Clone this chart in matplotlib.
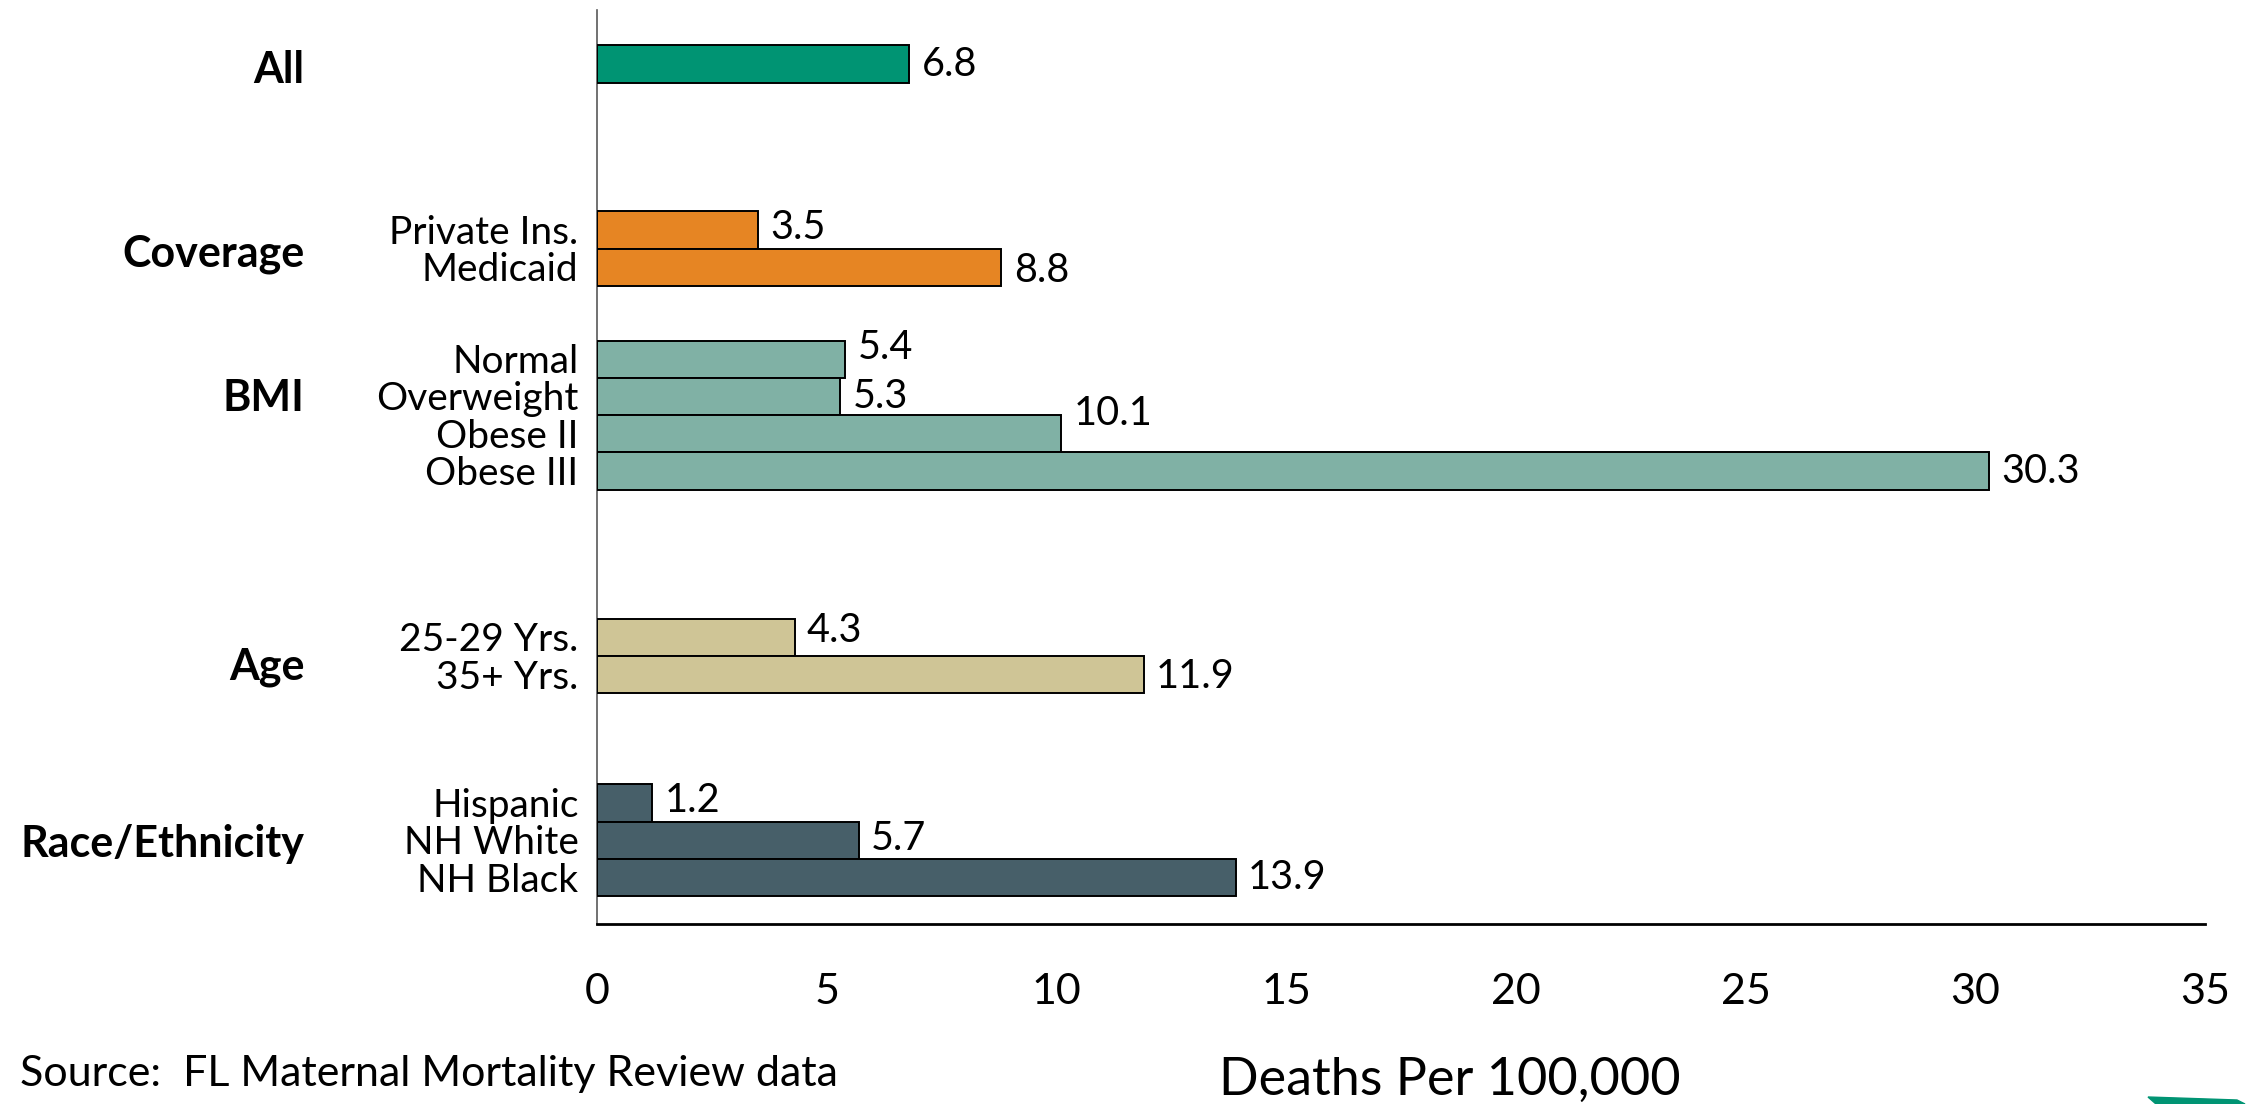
import matplotlib
matplotlib.use("Agg")
import matplotlib.pyplot as plt
from matplotlib.patches import Polygon

plt.rcParams['font.family'] = ['Lato', 'DejaVu Sans']

# ---- data -------------------------------------------------------------
groups = ["All", "Coverage", "BMI", "Age", "Race/Ethnicity"]
categories = [
    [""],
    ["Private Ins.", "Medicaid"],
    ["Normal", "Overweight", "Obese II", "Obese III"],
    ["25-29 Yrs.", "35+ Yrs."],
    ["Hispanic", "NH White", "NH Black"],
]
values = [
    [6.8],
    [3.5, 8.8],
    [5.4, 5.3, 10.1, 30.3],
    [4.3, 11.9],
    [1.2, 5.7, 13.9],
]
group_colors = ["#009473", "#E68523", "#80B1A5", "#CFC596", "#475F69"]
x_ticks = [0, 5, 10, 15, 20, 25, 30, 35]

# ---- layout (in bar-height units, measured from the top of the axis) ---
group_first_row = [1.45, 5.9, 9.36, 16.82, 21.26]
group_label_row = [1.6, 6.55, 10.4, 17.6, 22.35]
label_nudge = [
    [0.0],
    [-0.08, 0.08],
    [-0.3, 0.0, -0.55, 0.0],
    [-0.2, 0.05],
    [-0.08, -0.05, 0.0],
]
y_bottom = 24.5

fig = plt.figure(figsize=(22.57, 11.04), dpi=100)
ax = fig.add_axes([597 / 2257, 1 - 924 / 1104, (2205 - 597) / 2257, (924 - 10) / 1104])

for gi, (cats, vals) in enumerate(zip(categories, values)):
    rows = [group_first_row[gi] + k for k in range(len(vals))]
    ax.barh(rows, vals, height=1.0, color=group_colors[gi],
            edgecolor="black", linewidth=1.4, zorder=3)
    for r, c, v, dy in zip(rows, cats, vals, label_nudge[gi]):
        ax.text(v + 0.27, r + dy, f"{v:.1f}", ha="left", va="center",
                fontsize=28.5, color="black")
        if c:
            ax.text(-0.4, r + 0.08, c, ha="right", va="center",
                    fontsize=28, color="black", clip_on=False)
    ax.text(-6.36, group_label_row[gi], groups[gi], ha="right", va="center",
            fontsize=31, fontweight="bold", color="black", clip_on=False)

ax.set_xlim(0, 35)
ax.set_ylim(y_bottom, 0)
ax.set_xticks(x_ticks)
ax.set_xticklabels([str(t) for t in x_ticks], fontsize=31)
ax.tick_params(axis="x", length=0, pad=35)
ax.set_yticks([])

for s in ("top", "right"):
    ax.spines[s].set_visible(False)
ax.spines["left"].set_color("#595959")
ax.spines["left"].set_linewidth(1.2)
ax.spines["bottom"].set_color("black")
ax.spines["bottom"].set_linewidth(2.0)

fig.text(1450 / 2257, 1 - 1080 / 1104, "Deaths Per 100,000", ha="center",
         va="center", fontsize=37.5, color="black")
fig.text(20 / 2257, 1 - 1074 / 1104, "Source:  FL Maternal Mortality Review data",
         ha="left", va="center", fontsize=31, color="black")

# corner logo fragment
corner = Polygon([(2148 / 2257, 1 - 1097 / 1104), (2237 / 2257, 1 - 1100 / 1104),
                  (2245 / 2257, 0.0), (2156 / 2257, 0.0)],
                 closed=True, transform=fig.transFigure, color="#009473")
fig.patches.append(corner)

fig.savefig("out.png", dpi=100, facecolor="white")
